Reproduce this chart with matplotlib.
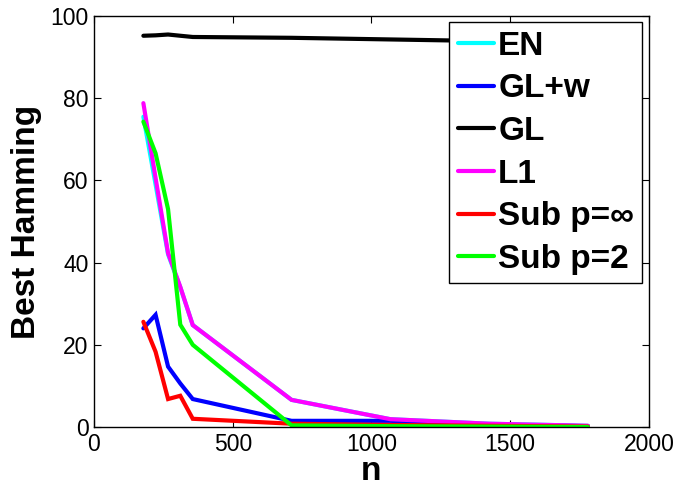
import numpy as np
import matplotlib
matplotlib.use("Agg")
import matplotlib.pyplot as plt

plt.rcParams['font.family'] = ['Liberation Sans', 'DejaVu Sans']

# sample sizes
n_vals = [178, 222, 267, 311, 356, 712, 1068, 1424, 1780]

# best hamming distance per method
en_vals = [75.5, 59.0, 42.0, 34.0, 24.8, 6.6, 1.9, 0.8, 0.3]
glw_vals = [24.0, 27.3, 14.7, 10.6, 6.8, 1.5, 1.5, 0.6, 0.2]
gl_vals = [95.2, 95.3, 95.5, 95.2, 94.9, 94.7, 94.3, 93.9, 93.6]
l1_vals = [78.8, 60.6, 42.3, 34.1, 24.8, 6.6, 1.9, 0.8, 0.3]
subinf_vals = [25.6, 18.3, 6.8, 7.6, 2.0, 0.8, 0.5, 0.3, 0.1]
sub2_vals = [74.3, 66.6, 53.0, 24.9, 20.0, 0.4, 0.2, 0.1, 0.0]

series = [
    ("EN", en_vals, "#00ffff"),
    ("GL+w", glw_vals, "#0000ff"),
    ("GL", gl_vals, "#000000"),
    ("L1", l1_vals, "#ff00ff"),
    ("Sub p=\u221e", subinf_vals, "#ff0000"),
    ("Sub p=2", sub2_vals, "#00ff00"),
]

fig = plt.figure(figsize=(6.78, 4.87), dpi=100)
ax = fig.add_axes([0.1386, 0.1232, 0.8186, 0.8439])

for label, vals, col in series:
    ax.plot(n_vals, vals, color=col, linewidth=3, label=label,
            solid_capstyle='round', solid_joinstyle='miter')

ax.set_xlim(0, 2000)
ax.set_ylim(0, 100)
ax.set_xticks([0, 500, 1000, 1500, 2000])
ax.set_yticks([0, 20, 40, 60, 80, 100])
ax.tick_params(direction='in', length=5, width=0.8, top=True, right=True,
               labelsize=16.5, pad=4)
for sp in ax.spines.values():
    sp.set_linewidth(1.0)

ax.set_xlabel("n", fontsize=24, fontweight='bold', labelpad=0)
ax.set_ylabel("Best Hamming", fontsize=24, fontweight='bold', labelpad=6)

leg = ax.legend(loc='upper left', bbox_to_anchor=(0.64, 0.985),
                borderaxespad=0, fancybox=False, framealpha=1,
                edgecolor='black', prop={'size': 24, 'weight': 'bold'},
                handlelength=1.1, handletextpad=0.12, borderpad=0.25,
                labelspacing=0.35)
leg.get_frame().set_linewidth(1.0)

fig.savefig("out.png", dpi=100)
